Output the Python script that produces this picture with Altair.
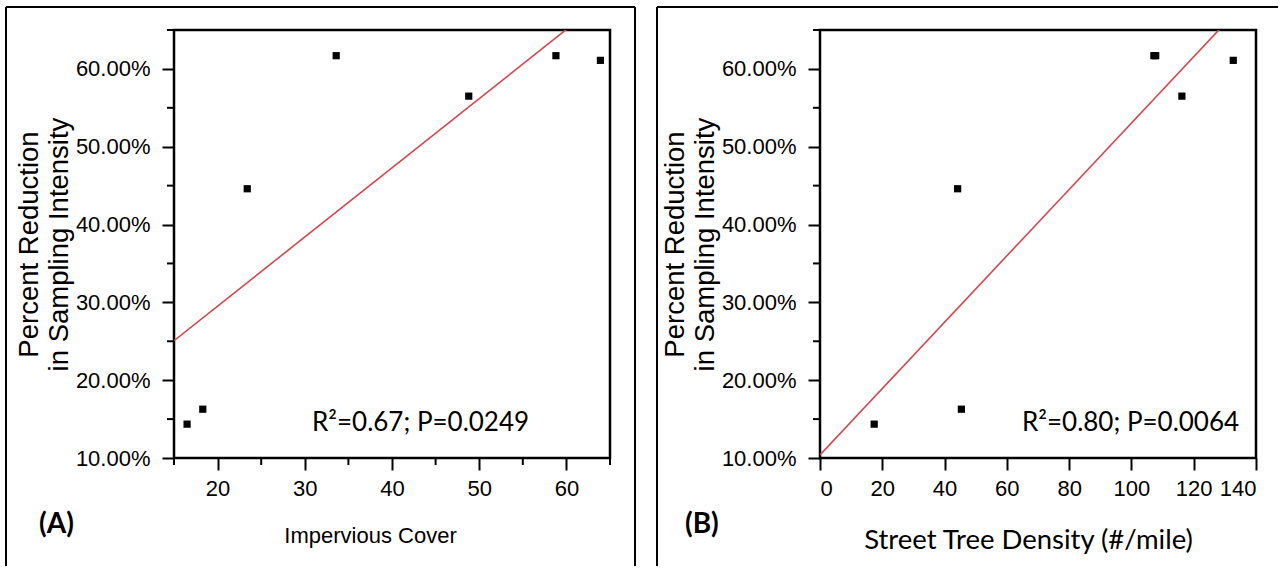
import altair as alt
import pandas as pd

# ---- data ----
a_cover = [16.5, 18.3, 23.4, 33.6, 48.8, 58.8, 63.9]
a_reduction = [0.1435, 0.1627, 0.446, 0.617, 0.565, 0.617, 0.611]
b_density = [17.4, 45.4, 44.2, 107.2, 107.8, 116.2, 132.7]
b_reduction = [0.1435, 0.1627, 0.446, 0.617, 0.617, 0.565, 0.611]

y_major = [0.1, 0.2, 0.3, 0.4, 0.5, 0.6]
y_minor = [0.15, 0.25, 0.35, 0.45, 0.55, 0.65]
a_x_major = [20, 30, 40, 50, 60]
a_x_minor = [15, 25, 35, 45, 55, 65]
b_x_major = [0, 20, 40, 60, 80, 100, 120, 140]
b_x_minor = []

y_title = ["Percent Reduction", "in Sampling Intensity"]
a_x_title = "Impervious Cover"
b_x_title = "Street Tree Density (#/mile)"
a_stat = "R\u00b2=0.67; P=0.0249"
b_stat = "R\u00b2=0.80; P=0.0064"

REG = "Liberation Sans, Arial, sans-serif"
CAL = "Lato, Carlito, Calibri, sans-serif"
RED = "#d8434f"

W, H = 436, 428
FRAME_BOTTOM = 536


def panel(xs, ys, xdom, xmajor, xminor, xtitle, xfont, xsize, xpad, xtitle_x,
          label, stat, stat_x, frame_l, frame_r, frame_right_edge):
    df = pd.DataFrame({"x": xs, "y": ys})
    xscale = alt.Scale(domain=xdom, nice=False, zero=False)
    yscale = alt.Scale(domain=[0.1, 0.65], nice=False, zero=False)
    xaxis = alt.Axis(values=xmajor, format="d", title=xtitle, titleFont=xfont,
                     titleFontSize=xsize, titlePadding=xpad, titleX=xtitle_x,
                     labelPadding=8, labelOverlap=False)
    yaxis = alt.Axis(values=y_major, format=".2%", title=y_title, titleFont=REG,
                     titleFontSize=27.5, titleLineHeight=30, titlePadding=2,
                     labelPadding=12, labelOverlap=False)
    pts = alt.Chart(df).mark_square(size=52, color="black", opacity=1).encode(
        x=alt.X("x:Q", scale=xscale, axis=xaxis),
        y=alt.Y("y:Q", scale=yscale, axis=yaxis),
    )
    fit = alt.Chart(df).transform_regression("x", "y", extent=xdom).mark_line(
        color=RED, strokeWidth=1.6, clip=True
    ).encode(x="x:Q", y="y:Q")

    layers = [pts, fit]

    ymin = alt.Chart(pd.DataFrame({"y": y_minor})).mark_rule(
        color="black", strokeWidth=2
    ).encode(y="y:Q", x=alt.value(-7), x2=alt.value(0))
    layers.append(ymin)
    if xminor:
        xmin = alt.Chart(pd.DataFrame({"x": xminor})).mark_rule(
            color="black", strokeWidth=2
        ).encode(x="x:Q", y=alt.value(H), y2=alt.value(H + 7))
        layers.append(xmin)

    one = pd.DataFrame({"k": [0]})
    top = alt.Chart(one).mark_rule(color="black", strokeWidth=2).encode(
        x=alt.value(frame_l), x2=alt.value(frame_right_edge), y=alt.value(-23))
    left = alt.Chart(one).mark_rule(color="black", strokeWidth=2).encode(
        x=alt.value(frame_l), y=alt.value(-23), y2=alt.value(FRAME_BOTTOM))
    layers += [top, left]
    if frame_r is not None:
        right = alt.Chart(one).mark_rule(color="black", strokeWidth=2).encode(
            x=alt.value(frame_r), y=alt.value(-23), y2=alt.value(FRAME_BOTTOM))
        layers.append(right)

    lab = alt.Chart(one).mark_text(
        text=label, font=CAL, fontWeight="bold", fontSize=28, align="left",
        baseline="alphabetic", color="black"
    ).encode(x=alt.value(-135), y=alt.value(503))
    st = alt.Chart(one).mark_text(
        text=stat, font=CAL, fontSize=26, align="left", baseline="alphabetic",
        color="black"
    ).encode(x=alt.value(stat_x), y=alt.value(401))
    layers += [lab, st]

    return alt.layer(*layers).properties(width=W, height=H)


pa = panel(a_cover, a_reduction, [15, 65], a_x_major, a_x_minor, a_x_title,
           REG, 22, 26, 196, "(A)", a_stat, 138, -168, 461, 461)
pb = panel(b_density, b_reduction, [0, 140], b_x_major, b_x_minor, b_x_title,
           CAL, 27.5, 27, 208, "(B)", b_stat, 202, -163, None, 458)

chart = alt.hconcat(pa, pb, spacing=16).properties(
    padding={"left": 3, "top": 4, "right": 0, "bottom": 0}
).configure_view(stroke="black", strokeWidth=2.5).configure_axis(
    domain=False, grid=False, tickColor="black", tickWidth=2, tickSize=12,
    labelColor="black", titleColor="black", labelFont=REG, labelFontSize=22,
    titleFontWeight="normal"
)

chart.save("out.html", embed_options={"renderer": "svg", "actions": False})
